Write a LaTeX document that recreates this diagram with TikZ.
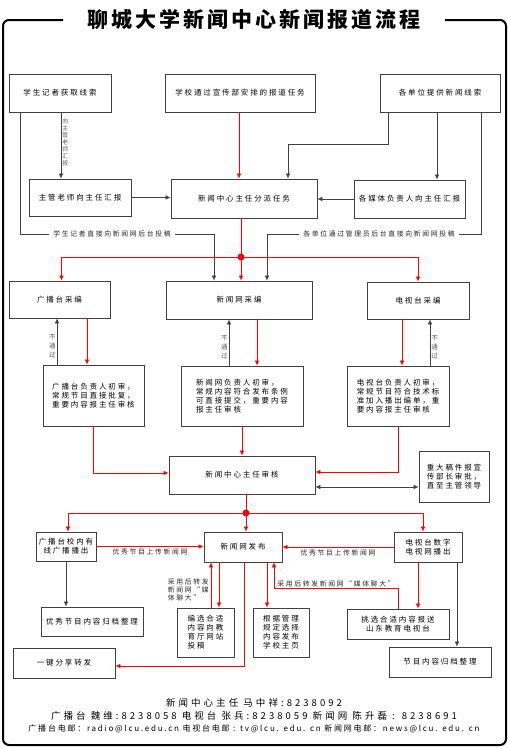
\documentclass[tikz,border=0pt]{standalone}
\usepackage{fontspec}
\newfontfamily\cjk[LetterSpace=25]{Noto Sans CJK SC}
\newfontfamily\cjkf[LetterSpace=32]{Noto Sans CJK SC}
\newfontfamily\cjkg[LetterSpace=22]{Noto Sans CJK SC}
\newfontfamily\cjktitle[LetterSpace=14]{Noto Sans CJK SC}
\usetikzlibrary{arrows.meta,calc}
\tikzset{
  box/.style={draw=black!75, line width=0.8pt, fill=white, inner sep=1pt, align=center, font=\cjk\fontsize{7.5}{9}\selectfont},
  lbox/.style={box, align=left},
  karr/.style={draw=black!75, line width=0.7pt, -{Latex[length=5pt,width=4.5pt]}},
  rarr/.style={draw=red, line width=0.7pt, -{Latex[length=5pt,width=4.5pt]}},
  vlab/.style={font=\cjk\fontsize{6.5}{9}\selectfont, text=black!65, align=center, inner sep=1pt},
  elab/.style={font=\cjk\fontsize{6.8}{8}\selectfont, text=black!85, inner sep=1pt},
  foot/.style={font=\cjkf\fontsize{9.5}{11}\selectfont, inner sep=0pt},
}
\begin{document}
\begin{tikzpicture}[x=1pt,y=-1pt]
\useasboundingbox[fill=white] (0,0) rectangle (508,748);
% frame
\draw[line width=2pt, rounded corners=6pt] (63,20) -- (3,20) -- (3,745) -- (506,745) -- (506,20) -- (445,20);
\node[font=\cjktitle\bfseries\fontsize{21}{24}\selectfont] (title) at (254,20) {聊城大学新闻中心新闻报道流程};
% row 1
\node[box, minimum width=102, minimum height=38] (b1) at (60,93) {学生记者获取线索};
\node[box, minimum width=150, minimum height=38] (b2) at (240,93) {学校通过宣传部安排的报道任务};
\node[box, minimum width=120, minimum height=38] (b3) at (440,93) {各单位提供新闻线索};
% row 2
\node[box, minimum width=102, minimum height=37] (b4) at (80,197.5) {主管老师向主任汇报};
\node[box, minimum width=146, minimum height=39] (b5) at (244,198.5) {新闻中心主任分派任务};
\node[box, minimum width=111, minimum height=38] (b6) at (409.5,199) {各媒体负责人向主任汇报};
% row 3
\node[box, minimum width=101, minimum height=37] (b7) at (59.5,299.5) {广播台采编};
\node[box, minimum width=146, minimum height=38] (b8) at (239,300) {新闻网采编};
\node[box, minimum width=102, minimum height=37] (b9) at (418,300.5) {电视台采编};
% row 4
\node[lbox, minimum width=101, minimum height=61] (b10) at (93.5,395.5) {广播台负责人初审，\\常规节目直接批复，\\重要内容报主任审核};
\node[lbox, minimum width=122, minimum height=60] (b11) at (242,396) {新闻网负责人初审，\\常规内容符合发布条例\\可直接提交，重要内容\\报主任审核};
\node[lbox, minimum width=102, minimum height=60] (b12) at (398,396) {电视台负责人初审，\\常规节目符合技术标\\准加入播出编单，重\\要内容报主任审核};
% row 5
\node[box, minimum width=146, minimum height=38] (b13) at (242,475) {新闻中心主任审核};
\node[lbox, minimum width=70, minimum height=51] (b14) at (454,476.5) {重大稿件报宣\\传部长审批，\\直至主管领导};
% row 6
\node[box, minimum width=60, minimum height=29] (b15) at (66,546.5) {广播台校内有\\线广播播出};
\node[box, minimum width=78, minimum height=30] (b16) at (243,547) {新闻网发布};
\node[box, minimum width=68, minimum height=30] (b17) at (428,547) {电视台数字\\电视网播出};
% row 7
\node[box, minimum width=102, minimum height=29] (b18) at (92,621.5) {优秀节目内容归档整理};
\node[lbox, minimum width=57, minimum height=49] (b19) at (205.5,632.5) {编选合适\\内容向教\\育厅网站\\投稿};
\node[lbox, minimum width=56, minimum height=49] (b20) at (281,632.5) {根据管理\\规定选择\\内容发布\\学校主页};
\node[box, minimum width=102, minimum height=30] (b21) at (398,624) {挑选合适内容报送\\山东教育电视台};
\node[box, minimum width=102, minimum height=30] (b22) at (440,662) {节目内容归档整理};
\node[box, minimum width=102, minimum height=30] (b23) at (64,663) {一键分享转发};

% top connectors
\draw[karr] ([xshift=1]b1.south) -- ([xshift=1]b1.south |- b4.north)
  node[vlab, right, pos=0.45, font=\cjk\fontsize{5.8}{7}\selectfont] {向\\主\\管\\老\\师\\汇\\报};
\draw[karr] (b4.east) -- (b4.east -| b5.west);
\draw[rarr] ([xshift=-1]b2.south) -- ([xshift=-1]b2.south |- b5.north);
\draw[karr] ([xshift=-52]b3.south) -- ++(0,32) -| ([xshift=44]b5.north);
\draw[karr] ([xshift=-3]b3.south) -- ([xshift=-3]b3.south |- b6.north);
\draw[karr] (b6.west) -- (b6.west -| b5.east);
\draw[karr] ([xshift=-40]b1.south) -- ++(0,122) -| ([xshift=-25]b8.north);
\draw[karr] ([xshift=41]b3.south) -- ++(0,122) -| ([xshift=28]b8.north);
\node[elab, fill=white, inner xsep=4pt] (l1) at (112,234) {学生记者直接向新闻网后台投稿};
\node[elab, fill=white, inner xsep=4pt] (l2) at (379,234) {各单位通过管理员后台直接向新闻网投稿};

% red distribution 1
\coordinate (d1) at (241,257);
\draw[rarr] ([xshift=-3]b5.south) -- ([xshift=-3]b5.south |- b8.north);
\draw[rarr] (d1) -| ([xshift=2]b7.north);
\draw[rarr] (d1) -| (b9.north);
\fill[red] (d1) circle (3.5pt);

% review
\draw[rarr] ([xshift=27.5]b7.south) -- ([xshift=27.5]b7.south |- b10.north);
\draw[karr] ([xshift=-36.5]b10.north) -- ([xshift=-36.5]b10.north |- b7.south)
  node[vlab, left, pos=0.4] {不\\通\\过};
\draw[rarr] ([xshift=18]b8.south) -- ([xshift=18]b8.south |- b11.north);
\draw[karr] ([xshift=-13]b11.north) -- ([xshift=-13]b11.north |- b8.south)
  node[vlab, left, pos=0.4] {不\\通\\过};
\draw[rarr] ([xshift=-16]b9.south) -- ([xshift=-16]b9.south |- b12.north);
\draw[karr] ([xshift=32]b12.north) -- ([xshift=32]b12.north |- b9.south)
  node[vlab, right, pos=0.4] {不\\通\\过};

% to director review
\draw[rarr] (b10.south) |- ([yshift=2]b13.west);
\draw[rarr] (b11.south) -- (b13.north);
\draw[rarr] (b12.south) |- ([yshift=3]b13.east);
\draw[karr, {Latex[length=5pt,width=4.5pt]}-{Latex[length=5pt,width=4.5pt]}] ([yshift=-12]b13.east) -- ([yshift=-12]b13.east -| b14.west);

% red distribution 2
\coordinate (d2) at (246,513);
\draw[rarr] ([xshift=4]b13.south) -- ([xshift=4]b13.south |- b16.north);
\draw[rarr] (d2) -| ([xshift=2]b15.north);
\draw[rarr] (d2) -| ([xshift=-5]b17.north);
\fill[red] (d2) circle (3.5pt);

% publishing
\draw[rarr] (b15.east) -- (b15.east -| b16.west) node[elab, below, midway, yshift=-1] {优秀节目上传新闻网};
\draw[rarr] (b17.west) -- (b17.west -| b16.east) node[elab, below, midway, yshift=-1] {优秀节目上传新闻网};
\draw[karr] (b15.south) -- (b15.south |- b18.north);
\draw[rarr] ([xshift=-24]b16.south) -- ([xshift=-24]b16.south |- b19.north);
\draw[rarr] ([xshift=5.5]b19.north) -- ([xshift=5.5]b19.north |- b16.south)
  node[elab, left, align=left, pos=0.4, xshift=-1, font=\cjk\fontsize{6.8}{8}\selectfont] {采用后转发\\新闻网“媒\\体聊大”};
\draw[rarr] ([xshift=24]b16.south) -- ([xshift=24]b16.south |- b20.north);
\draw[rarr] (b21.north) -- ++(0,-20) -| node[elab, above, pos=0.25] {采用后转发新闻网“媒体聊大”} ([xshift=31]b16.south);
\draw[rarr] ([xshift=-10]b17.south) -- ([xshift=-10]b17.south |- b21.north);
\draw[karr] ([xshift=29]b17.south) -- ([xshift=29]b17.south |- b22.north);
\draw[rarr] ([xshift=1]b16.south) |- ([yshift=-3]b23.east);

% footer
\node[foot] (f1) at (254,703) {新闻中心主任 马中祥:8238092};
\node[foot] (f2) at (254,715.5) {广播台 魏维:8238058 电视台 张兵:8238059 新闻网 陈升磊 : 8238691};
\node[foot, font=\cjkg\fontsize{8}{9}\selectfont] (f3) at (254,728.5) {广播台电邮：radio@lcu.edu.cn 电视台电邮 : tv@lcu. edu. cn 新闻网电邮：news@lcu. edu. cn};
\end{tikzpicture}
\end{document}
